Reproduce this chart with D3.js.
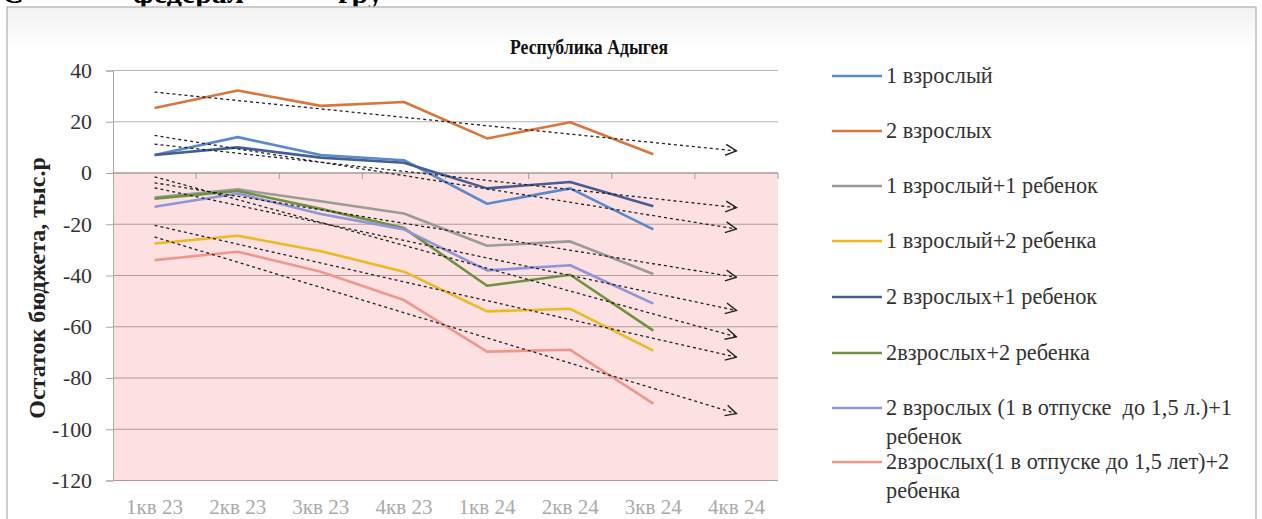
<!DOCTYPE html>
<html>
<head>
<meta charset="utf-8">
<script src="https://cdn.jsdelivr.net/npm/d3@7"></script>
<style>
  html, body { margin: 0; padding: 0; background: #fff; }
  svg { display: block; }
  text { font-family: "Liberation Serif", "Times New Roman", serif; }
</style>
</head>
<body>
<svg id="chart" width="1262" height="519"></svg>
<script>
// ---- data ----
const categories = ["1кв 23", "2кв 23", "3кв 23", "4кв 23", "1кв 24", "2кв 24", "3кв 24", "4кв 24"];
const yTicks = [40, 20, 0, -20, -40, -60, -80, -100, -120];
const seriesNames = [
  "1 взрослый",
  "2 взрослых",
  "1 взрослый+1 ребенок",
  "1 взрослый+2 ребенка",
  "2 взрослых+1 ребенок",
  "2взрослых+2 ребенка",
  "2 взрослых (1 в отпуске  до 1,5 л.)+1 ребенок",
  "2взрослых(1 в отпуске до 1,5 лет)+2 ребенка"
];
const legendLines = [
  ["1 взрослый"],
  ["2 взрослых"],
  ["1 взрослый+1 ребенок"],
  ["1 взрослый+2 ребенка"],
  ["2 взрослых+1 ребенок"],
  ["2взрослых+2 ребенка"],
  ["2 взрослых (1 в отпуске  до 1,5 л.)+1", "ребенок"],
  ["2взрослых(1 в отпуске до 1,5 лет)+2", "ребенка"]
];
const seriesColors = ["#5A8ACB", "#D9763B", "#9A9A9A", "#EDB820", "#465E93", "#6E9240", "#8F95D8", "#F0978B"];
const v1adult       = [7, 14, 7, 5, -12, -6, -22];
const v2adults      = [25.4, 32.2, 26.2, 27.7, 13.5, 19.8, 7.3];
const v1a1c         = [-9.6, -6.4, -11, -15.8, -28.4, -26.7, -39.4];
const v1a2c         = [-27.5, -24.5, -30.5, -38.5, -54, -53, -69.3];
const v2a1c         = [7, 10, 6, 4, -6, -3.5, -13];
const v2a2c         = [-10, -7, -14, -21.5, -44, -39.7, -61.5];
const v2aLeave1c    = [-13.2, -8, -16, -22, -38, -36, -51];
const v2aLeave2c    = [-34, -30.7, -38.5, -49.6, -69.7, -69, -90];
const seriesValues = [v1adult, v2adults, v1a1c, v1a2c, v2a1c, v2a2c, v2aLeave1c, v2aLeave2c];
const chartTitle = "Республика Адыгея";
const yTitle = "Остаток бюджета, тыс.р";

// ---- layout ----
const svg = d3.select("#chart");
const pLeft = 113, pRight = 778, pTop = 70.5, pBottom = 480.5;

// size a font so that a text spans a measured width
function sizeTo(sel, target) {
  const fs = +sel.attr("font-size");
  const w = sel.node().getComputedTextLength();
  return fs * target / w;
}

const x = d3.scaleBand().domain(categories).range([pLeft, pRight]).paddingInner(0).paddingOuter(0);
const cx = c => x(c) + x.bandwidth() / 2;
const y = d3.scaleLinear().domain([-120, 40]).range([pBottom, pTop]);

// cropped heading above frame
svg.append("g").selectAll("text")
  .data([["С", 2], ["федерал", 133], ["гру", 338]])
  .join("text")
  .attr("x", d => d[1]).attr("y", 3)
  .attr("font-size", 30).attr("font-weight", "bold").attr("fill", "#000")
  .text(d => d[0]);

// chart frame
const defs = svg.append("defs");
const grad = defs.append("linearGradient").attr("id", "fr").attr("x1", 0).attr("y1", 0).attr("x2", 0).attr("y2", 1);
grad.append("stop").attr("offset", "0%").attr("stop-color", "#f2f2f2");
grad.append("stop").attr("offset", "8%").attr("stop-color", "#ffffff");
svg.append("rect").attr("x", 7).attr("y", 7).attr("width", 1249).attr("height", 530)
  .attr("fill", "url(#fr)").attr("stroke", "#BDBDBD").attr("stroke-width", 1.5);

// pink negative zone
svg.append("rect")
  .attr("x", pLeft).attr("y", y(0))
  .attr("width", pRight - pLeft).attr("height", y(-120) - y(0))
  .attr("fill", "#FDE0E1");

// gridlines
svg.append("g").selectAll("line").data(yTicks).join("line")
  .attr("x1", pLeft).attr("x2", pRight)
  .attr("y1", d => y(d)).attr("y2", d => y(d))
  .attr("stroke", d => d > 0 ? "#B5B5B5" : "#B49A9C").attr("stroke-width", 1);

// y axis
const yAxis = svg.append("g").attr("transform", `translate(${pLeft},0)`)
  .call(d3.axisLeft(y).tickValues(yTicks).tickSize(7).tickPadding(14).tickFormat(d => String(d)));
yAxis.select(".domain").attr("stroke", "#A8A8A8");
yAxis.selectAll(".tick line").attr("stroke", "#A8A8A8");
yAxis.selectAll(".tick text").attr("font-size", 19).attr("fill", "#333");
{
  const t = yAxis.selectAll(".tick text").filter(d => d === -120);
  const fs = sizeTo(t, 40);
  yAxis.selectAll(".tick text").attr("font-size", fs);
}

// category axis at zero with boundary ticks
svg.append("line").attr("x1", pLeft).attr("x2", pRight).attr("y1", y(0)).attr("y2", y(0))
  .attr("stroke", "#A89A9C").attr("stroke-width", 1.2);
svg.append("g").selectAll("line").data(categories.slice(1).concat(["__end"])).join("line")
  .attr("x1", d => d === "__end" ? pRight : x(d)).attr("x2", d => d === "__end" ? pRight : x(d))
  .attr("y1", y(0)).attr("y2", y(0) + 6)
  .attr("stroke", "#A89A9C").attr("stroke-width", 1);

// category labels at bottom
const xAxis = svg.append("g").attr("transform", `translate(0,${pBottom})`)
  .call(d3.axisBottom(x).tickSize(0).tickPadding(19));
xAxis.select(".domain").remove();
xAxis.selectAll(".tick text").attr("font-size", 18).attr("fill", "#AAAAAA");
{
  const t = xAxis.selectAll(".tick text").filter(d => d === categories[0]);
  const fs = sizeTo(t, 57);
  xAxis.selectAll(".tick text").attr("font-size", fs);
}

// series lines
const line = d3.line().x((d, i) => cx(categories[i])).y(d => y(d));
svg.append("g").selectAll("path").data(seriesValues).join("path")
  .attr("d", d => line(d))
  .attr("fill", "none")
  .attr("stroke", (d, i) => seriesColors[i])
  .attr("stroke-width", 2.6)
  .attr("stroke-linejoin", "round");

// trendlines (least squares, forecast one period)
defs.append("marker").attr("id", "arr")
  .attr("viewBox", "0 0 12 12").attr("refX", 11).attr("refY", 6)
  .attr("markerWidth", 13).attr("markerHeight", 13).attr("markerUnits", "userSpaceOnUse")
  .attr("orient", "auto")
  .append("path").attr("d", "M1,1 L11,6 L1,11").attr("fill", "none").attr("stroke", "#222").attr("stroke-width", 1.3);

function fit(vals) {
  const n = vals.length, mx = (n - 1) / 2, my = d3.mean(vals);
  let sxy = 0, sxx = 0;
  vals.forEach((v, i) => { sxy += (i - mx) * (v - my); sxx += (i - mx) * (i - mx); });
  const b = sxy / sxx;
  return i => my + b * (i - mx);
}
svg.append("g").selectAll("line").data(seriesValues).join("line")
  .each(function(d) {
    const f = fit(d);
    d3.select(this)
      .attr("x1", cx(categories[0])).attr("y1", y(f(0)))
      .attr("x2", cx(categories[categories.length - 1])).attr("y2", y(f(categories.length - 1)));
  })
  .attr("stroke", "#222").attr("stroke-width", 1.3)
  .attr("stroke-dasharray", "3,3")
  .attr("marker-end", "url(#arr)");

// title (condensed bold)
{
  const g = svg.append("g");
  const t = g.append("text").attr("x", 0).attr("y", 0).attr("text-anchor", "middle")
    .attr("font-size", 22).attr("font-weight", "bold").attr("fill", "#111").text(chartTitle);
  const sx = Math.min(1, 158 / t.node().getComputedTextLength());
  g.attr("transform", `translate(589,54) scale(${sx},1)`);
}

// y title
{
  const t = svg.append("text").attr("transform", "translate(45,288) rotate(-90)")
    .attr("text-anchor", "middle").attr("font-size", 18).attr("font-weight", "bold").attr("fill", "#222")
    .text(yTitle);
  t.attr("font-size", Math.min(24, sizeTo(t, 268)));
}

// legend
const legendY = [76, 131, 186, 241, 297, 353, 408, 462];
const lg = svg.append("g").selectAll("g").data(legendLines).join("g")
  .attr("transform", (d, i) => `translate(832,${legendY[i]})`);
lg.append("line").attr("x1", 0).attr("x2", 50).attr("y1", 0).attr("y2", 0)
  .attr("stroke", (d, i) => seriesColors[i]).attr("stroke-width", 2.6);
const lgTexts = [];
lg.each(function(d) {
  const t = d3.select(this).append("text").attr("x", 54).attr("y", 6)
    .attr("font-size", 18).attr("fill", "#333").style("white-space", "pre");
  d.forEach((s, k) => t.append("tspan").attr("x", 54).attr("dy", k === 0 ? 0 : 29).text(s));
  lgTexts.push(t);
});
{
  const fs = sizeTo(lgTexts[2], 212);
  lgTexts.forEach(t => t.attr("font-size", fs).attr("y", fs * 0.33));
}
</script>
</body>
</html>
